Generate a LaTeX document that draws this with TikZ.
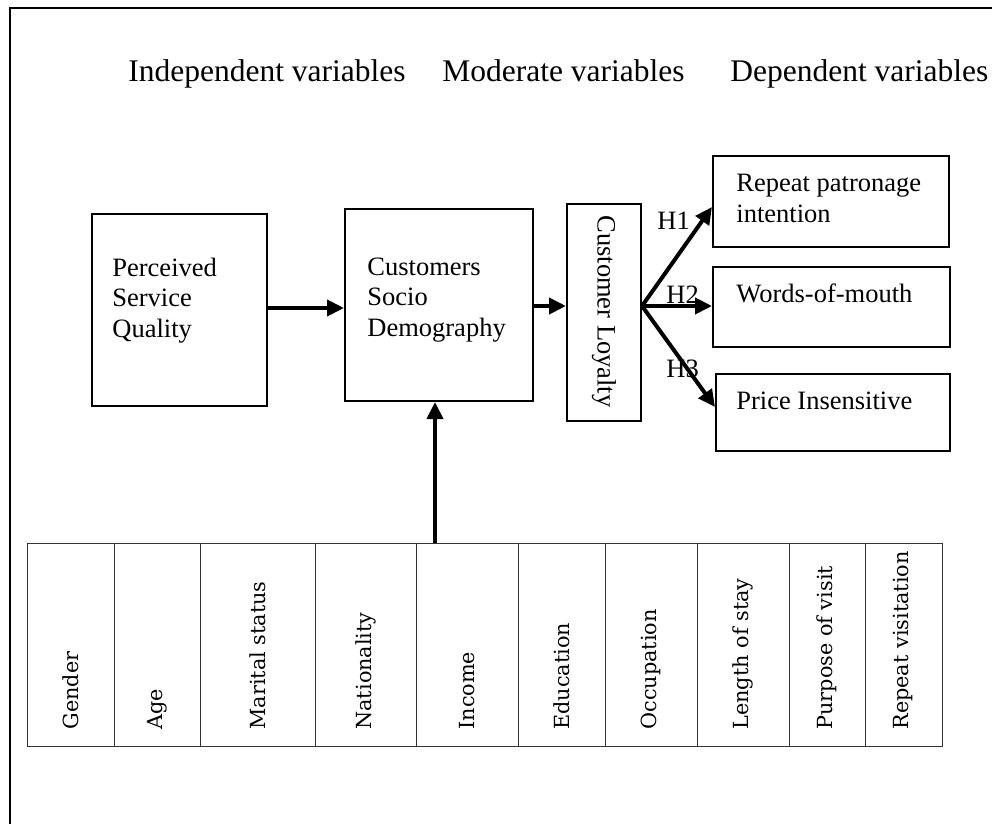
\documentclass[tikz,border=0pt]{standalone}
\usepackage{fontspec}
\setmainfont{Liberation Serif}
\newfontfamily\tabfont{DejaVu Serif}
\usetikzlibrary{arrows.meta}
\tikzset{
  box/.style={draw, line width=1pt, inner sep=0pt},
  arr/.style={line width=2pt, -{Triangle[length=8.5pt,width=8pt]}},
  hdr/.style={anchor=base west, inner sep=0pt, font=\fontsize{15.75}{18}\selectfont},
  txt/.style={anchor=base west, inner sep=0pt, align=left, font=\fontsize{13.25}{15.25}\selectfont},
  cell/.style={rotate=90, anchor=west, inner sep=0pt, font=\tabfont\fontsize{10.4}{12}\selectfont},
  tline/.style={line width=0.5pt, black!80}
}
\begin{document}
\begin{tikzpicture}[x=0.5pt,y=-0.5pt]
\useasboundingbox (0,0) rectangle (992,824);
% outer frame
\draw[line width=1pt] (9.5,830) -- (9.5,8) -- (1000,8);
% headers
\node[hdr] (h1) at (128,82) {Independent variables};
\node[hdr] (h2) at (442,82) {Moderate variables};
\node[hdr] (h3) at (730,82) {Dependent variables};
% boxes
\node[box, minimum width=87.5pt, minimum height=96pt] (psq) at (179.5,310) {};
\node[box, minimum width=94pt, minimum height=96pt] (csd) at (439,305) {};
\node[box, minimum width=37pt, minimum height=108.5pt] (cl) at (604,312.5) {};
\node[box, minimum width=118pt, minimum height=45.5pt] (rp) at (831,201.5) {};
\node[box, minimum width=118.5pt, minimum height=40pt] (wm) at (831.5,307) {};
\node[box, minimum width=117pt, minimum height=38.5pt] (pi) at (833,412.5) {};
% box texts (base anchor = last line)
\node[txt] (psqt) at (112,337) {Perceived\\Service\\Quality};
\node[txt] (csdt) at (367,336) {Customers\\Socio\\Demography};
\node[txt] (rpt) at (736,222) {Repeat patronage\\intention};
\node[txt] (wmt) at (736,302) {Words-of-mouth};
\node[txt] (pit) at (736,409) {Price Insensitive};
\node[rotate=-90, inner sep=0pt, font=\fontsize{13.25}{15.25}\selectfont] (clt) at (604,311.5) {Customer Loyalty};
% hypothesis labels
\node[txt] (H1) at (657,230) {H1};
\node[txt] (H2) at (666,303) {H2};
\node[txt] (H3) at (666,377) {H3};
% table
\node[draw, tline, minimum width=457.5pt, minimum height=101.5pt, inner sep=0pt] (tab) at (484.5,644.5) {};
\foreach \x in {114,200,315,416.5,518,605,697,789,865}
  \draw[tline] (\x,543) -- (\x,746);
\node[cell] (c1) at (70.5,730) {Gender};
\node[cell] (c2) at (157,730) {Age};
\node[cell] (c3) at (257.5,730) {Marital status};
\node[cell] (c4) at (365.75,730) {Nationality};
\node[cell] (c5) at (467.25,730) {Income};
\node[cell] (c6) at (561.5,730) {Education};
\node[cell] (c7) at (651,730) {Occupation};
\node[cell] (c8) at (743,730) {Length of stay};
\node[cell] (c9) at (827,730) {Purpose of visit};
\node[cell] (c10) at (903.5,730) {Repeat visitation};
% arrows
\draw[arr] (psq.east |- 0,308) -- (csd.west |- 0,308);
\draw[arr] (csd.east |- 0,306) -- (cl.west |- 0,306);
\coordinate (fan) at (cl.east |- 0,306);
\draw[arr] (fan) -- (rp.west |- 0,207);
\draw[arr] (fan) -- (wm.west |- 0,306);
\draw[arr] (fan) -- (pi.west |- 0,407);
\draw[arr] (tab.north -| 435,0) -- (csd.south -| 435,0);
\end{tikzpicture}
\end{document}
